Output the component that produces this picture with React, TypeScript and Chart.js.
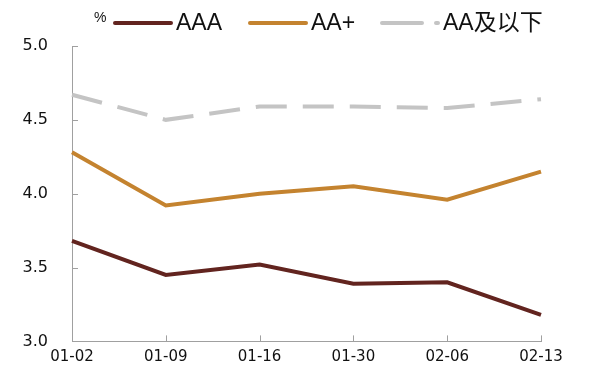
import React, { useEffect, useRef } from "react";
import { Chart, registerables } from "chart.js";

Chart.register(...registerables);

const categories = ["01-02", "01-09", "01-16", "01-30", "02-06", "02-13"];
const aaa = [3.68, 3.45, 3.52, 3.39, 3.40, 3.18];
const aaPlus = [4.28, 3.92, 4.0, 4.05, 3.96, 4.15];
const aaBelow = [4.67, 4.5, 4.59, 4.59, 4.58, 4.64];
const seriesNames = ["AAA", "AA+", "AA及以下"];
const yTicks = [3.0, 3.5, 4.0, 4.5, 5.0];
const unitLabel = "%";

const COLORS = ["#62241f", "#c4832f", "#c4c4c4"];
const DASH = [31, 16];
const TICK_FONT = "'DejaVu Sans', 'Liberation Sans', sans-serif";

const insideTicks = {
  id: "insideTicks",
  afterDatasetsDraw(chart: any) {
    const ctx = chart.ctx;
    const x = chart.scales.x;
    const y = chart.scales.y;
    ctx.save();
    ctx.strokeStyle = "#a0a0a0";
    ctx.lineWidth = 1;
    ctx.beginPath();
    x.ticks.forEach((_: any, i: number) => {
      const px = Math.round(x.getPixelForTick(i)) + 0.5;
      ctx.moveTo(px, y.bottom);
      ctx.lineTo(px, y.bottom - 6);
    });
    y.ticks.forEach((_: any, i: number) => {
      const py = Math.round(y.getPixelForTick(i)) + 0.5;
      ctx.moveTo(x.left, py);
      ctx.lineTo(x.left + 6, py);
    });
    ctx.stroke();
    ctx.restore();
  },
};

const customLegend = {
  id: "customLegend",
  afterDraw(chart: any) {
    const ctx = chart.ctx;
    ctx.save();
    const cy = 22;
    ctx.fillStyle = "#111";
    ctx.font = "14px 'Liberation Sans', Arial, sans-serif";
    ctx.textBaseline = "middle";
    ctx.fillText(unitLabel, 94, cy - 4);
    ctx.font = "23px 'Liberation Sans', Arial, 'Noto Sans CJK SC', sans-serif";
    const starts = [113, 248, 380];
    chart.data.datasets.forEach((ds: any, i: number) => {
      const sx = starts[i];
      ctx.strokeStyle = ds.borderColor;
      ctx.lineWidth = 4;
      ctx.lineCap = "round";
      ctx.setLineDash(i === 2 ? [40, 14, 6, 100] : []);
      ctx.beginPath();
      ctx.moveTo(sx + 2, cy + 1);
      ctx.lineTo(sx + 58, cy + 1);
      ctx.stroke();
      ctx.setLineDash([]);
      ctx.fillStyle = "#111";
      ctx.fillText(ds.label, sx + 63, cy + 2);
    });
    ctx.restore();
  },
};

export default function App() {
  const ref = useRef<HTMLCanvasElement>(null);
  useEffect(() => {
    document.body.style.margin = "0";
    const chart = new Chart(ref.current!, {
      type: "line",
      data: {
        labels: categories,
        datasets: [
          { label: seriesNames[0], data: aaa, borderColor: COLORS[0], backgroundColor: COLORS[0], borderWidth: 4, pointRadius: 0, tension: 0 },
          { label: seriesNames[1], data: aaPlus, borderColor: COLORS[1], backgroundColor: COLORS[1], borderWidth: 4, pointRadius: 0, tension: 0 },
          { label: seriesNames[2], data: aaBelow, borderColor: COLORS[2], backgroundColor: COLORS[2], borderWidth: 4, pointRadius: 0, tension: 0, borderDash: DASH },
        ],
      },
      options: {
        animation: false,
        responsive: false,
        layout: { padding: { top: 46, right: 52, left: 0, bottom: 0 } },
        plugins: { legend: { display: false }, tooltip: { enabled: false } },
        scales: {
          x: {
            offset: false,
            grid: { display: true, drawOnChartArea: false, drawTicks: false, color: "#a0a0a0" },
            border: { display: true, color: "#a0a0a0", width: 1 },
            ticks: { color: "#111", font: { size: 15, family: TICK_FONT }, padding: 7, maxRotation: 0, autoSkip: false },
            afterFit: (s: any) => { s.height = 33; },
          },
          y: {
            min: 3,
            max: 5,
            afterBuildTicks: (s: any) => { s.ticks = yTicks.map((v) => ({ value: v })); },
            grid: { display: true, drawOnChartArea: false, drawTicks: false, color: "#a0a0a0" },
            border: { display: true, color: "#a0a0a0", width: 1 },
            ticks: {
              color: "#111",
              font: { size: 16, family: TICK_FONT },
              padding: 24,
              callback: (v: any) => Number(v).toFixed(1),
            },
            afterFit: (s: any) => { s.width = 72; },
          },
        },
      },
      plugins: [insideTicks, customLegend],
    });
    return () => chart.destroy();
  }, []);
  return <canvas ref={ref} width={593} height={375} style={{ display: "block" }} />;
}
